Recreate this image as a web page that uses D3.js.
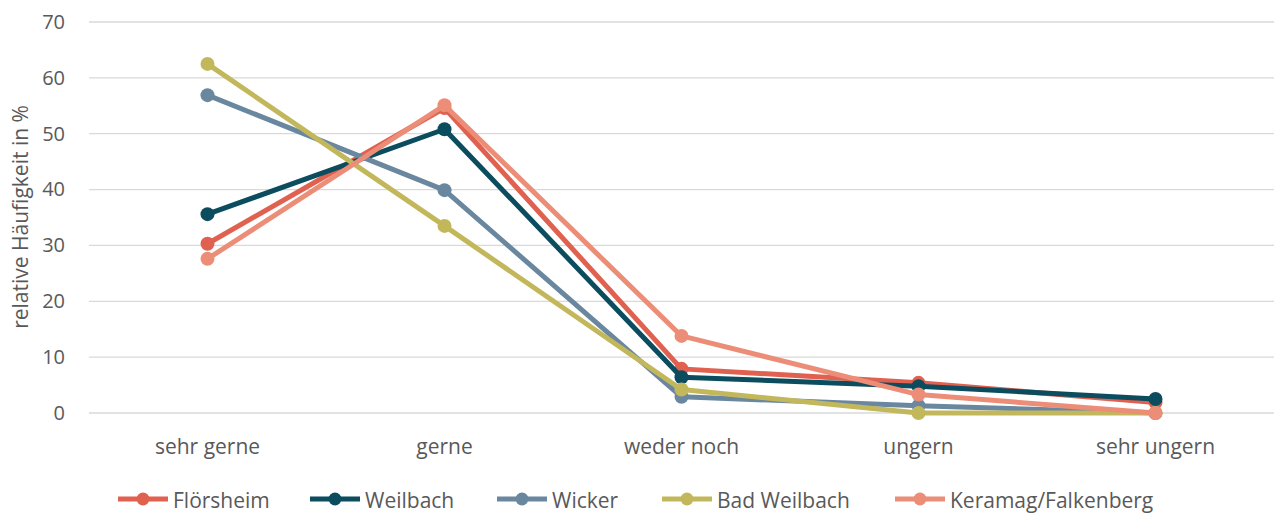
<!DOCTYPE html>
<html>
<head>
<meta charset="utf-8">
<script src="https://cdn.jsdelivr.net/npm/d3@7"></script>
<style>
  body { margin: 0; background: #fff; }
  text { font-family: "Open Sans", sans-serif; fill: #595959; }
</style>
</head>
<body>
<div id="chart"></div>
<script>
// categories and series values
var categories = ["sehr gerne", "gerne", "weder noch", "ungern", "sehr ungern"];
var seriesNames = ["Flörsheim", "Weilbach", "Wicker", "Bad Weilbach", "Keramag/Falkenberg"];
var floersheim = [30.3, 54.6, 7.9, 5.4, 1.9];
var weilbach = [35.6, 50.8, 6.4, 4.8, 2.5];
var wicker = [56.9, 39.9, 2.9, 1.3, 0];
var badWeilbach = [62.5, 33.5, 4.2, 0, 0];
var keramag = [27.6, 55.1, 13.8, 3.3, 0];
var yTicks = [0, 10, 20, 30, 40, 50, 60, 70];
var colors = ["#e06150", "#0b4d5e", "#6a87a0", "#c3b75c", "#ec8d78"];

var series = [floersheim, weilbach, wicker, badWeilbach, keramag].map(function(v, i) {
    return { name: seriesNames[i], values: v, color: colors[i] };
});

var width = 1281, height = 516;
var margin = { top: 22, right: 7, bottom: 103, left: 89 };

var svg = d3.select("#chart")
    .append("svg")
    .attr("width", width)
    .attr("height", height);

var x = d3.scaleBand()
    .domain(categories)
    .range([margin.left, width - margin.right]);

var y = d3.scaleLinear()
    .domain([0, 70])
    .range([height - margin.bottom, margin.top]);

// gridlines
svg.append("g")
    .selectAll("line")
    .data(yTicks)
    .join("line")
    .attr("x1", margin.left)
    .attr("x2", width - margin.right)
    .attr("y1", function(d) { return y(d); })
    .attr("y2", function(d) { return y(d); })
    .attr("stroke", "#d9d9d9")
    .attr("stroke-width", 1.3);

// y axis labels
var yAxis = svg.append("g")
    .attr("transform", "translate(" + (margin.left - 24) + ",0)")
    .call(d3.axisLeft(y).tickValues(yTicks).tickSize(0).tickPadding(0));
yAxis.select(".domain").remove();
yAxis.selectAll("text")
    .style("font-size", "20px")
    .style("font-family", "Open Sans, sans-serif")
    .attr("fill", "#595959");

// x axis labels
var xAxis = svg.append("g")
    .attr("transform", "translate(0,454)")
    .call(d3.axisBottom(x).tickSize(0).tickPadding(0));
xAxis.select(".domain").remove();
xAxis.selectAll("text")
    .style("font-size", "21px")
    .style("font-family", "Open Sans, sans-serif")
    .attr("fill", "#595959")
    .attr("y", 0)
    .attr("dy", 0);

// y axis title
svg.append("text")
    .attr("transform", "translate(28,217) rotate(-90)")
    .attr("text-anchor", "middle")
    .style("font-size", "21px")
    .text("relative Häufigkeit in %");

var line = d3.line()
    .x(function(d, i) { return x(categories[i]) + x.bandwidth() / 2; })
    .y(function(d) { return y(d); });

var groups = svg.append("g")
    .selectAll("g")
    .data(series)
    .join("g");

groups.append("path")
    .attr("d", function(d) { return line(d.values); })
    .attr("fill", "none")
    .attr("stroke", function(d) { return d.color; })
    .attr("stroke-width", 5)
    .attr("stroke-linejoin", "round");

groups.selectAll("circle")
    .data(function(d) { return d.values.map(function(v) { return { v: v, color: d.color }; }); })
    .join("circle")
    .attr("cx", function(d, i) { return x(categories[i]) + x.bandwidth() / 2; })
    .attr("cy", function(d) { return y(d.v); })
    .attr("r", 7)
    .attr("fill", function(d) { return d.color; });

// legend
var legendX = [118, 310, 497, 662, 895];
var legend = svg.append("g")
    .selectAll("g")
    .data(series)
    .join("g")
    .attr("transform", function(d, i) { return "translate(" + legendX[i] + ",499)"; });

legend.append("line")
    .attr("x1", 0).attr("x2", 50)
    .attr("stroke", function(d) { return d.color; })
    .attr("stroke-width", 5);
legend.append("circle")
    .attr("cx", 25)
    .attr("r", 6.5)
    .attr("fill", function(d) { return d.color; });
legend.append("text")
    .attr("x", 55)
    .attr("y", 9)
    .style("font-size", "21px")
    .text(function(d) { return d.name; });
</script>
</body>
</html>
